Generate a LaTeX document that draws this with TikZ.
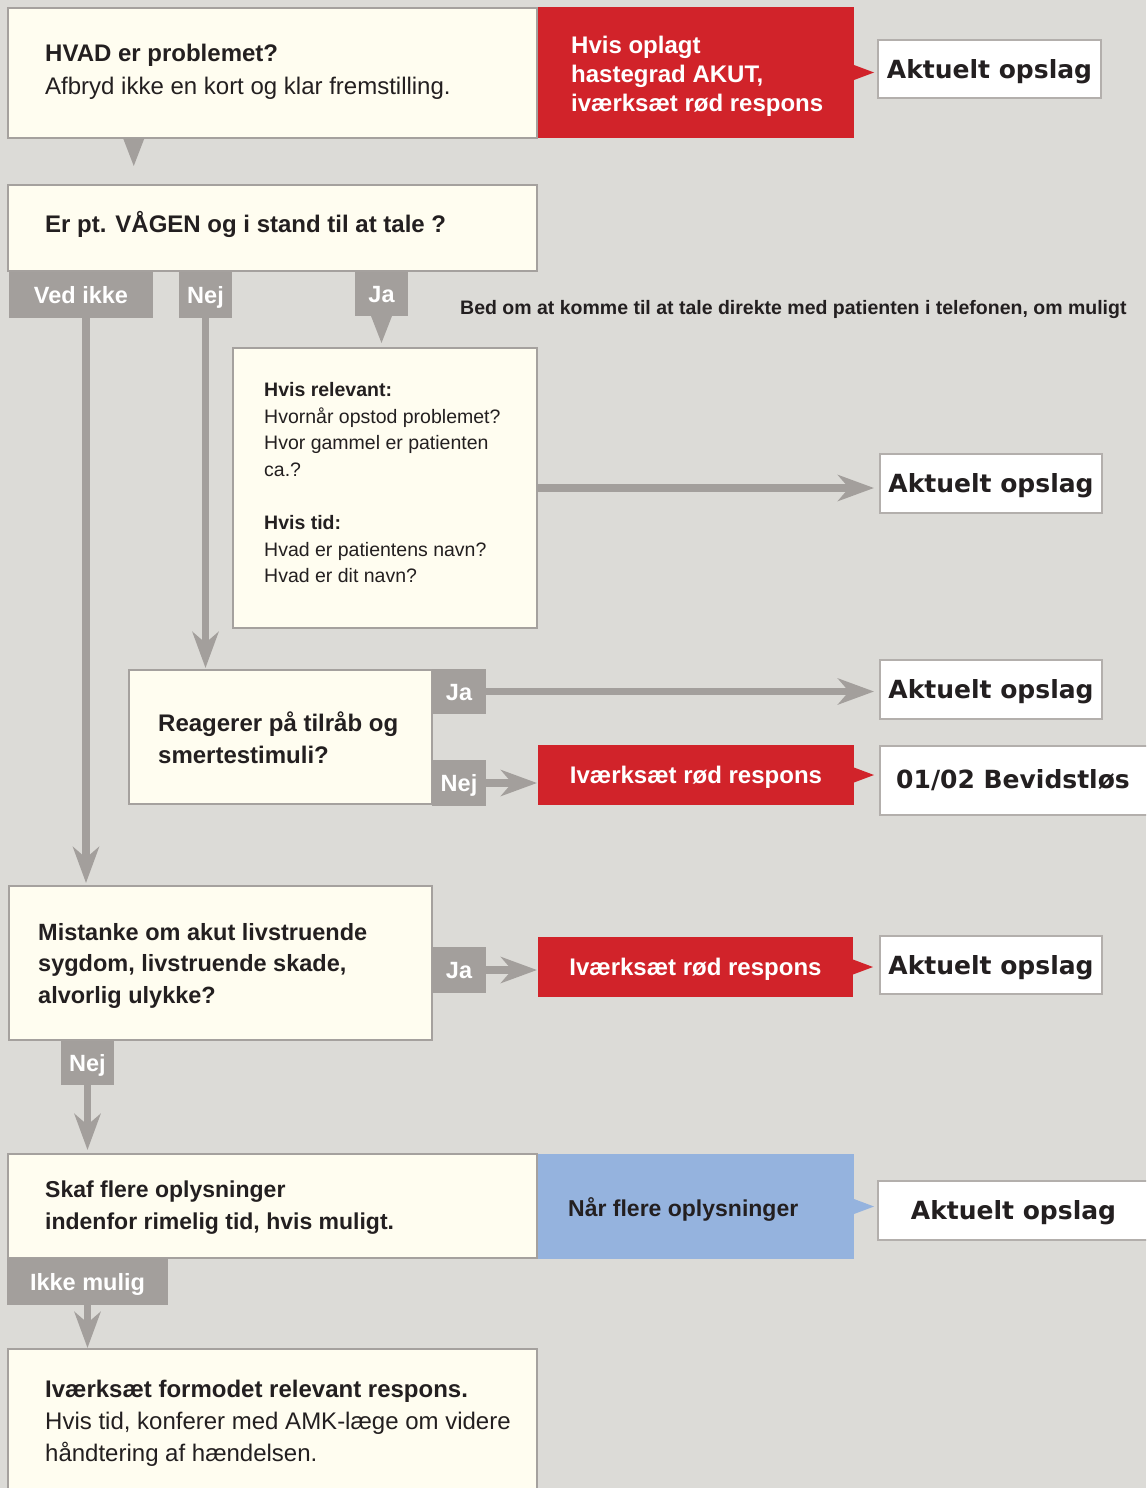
\documentclass[tikz,border=0pt]{standalone}
\usepackage{fontspec}
\setmainfont{Liberation Sans}
\newfontfamily\opslagfont{DejaVu Sans}
\usetikzlibrary{arrows.meta,calc}
\definecolor{bgc}{HTML}{DCDBD7}
\definecolor{cream}{HTML}{FFFDF0}
\definecolor{taggray}{HTML}{A39F9C}
\definecolor{bordergray}{HTML}{A5A19E}
\definecolor{lightborder}{HTML}{B3AFAC}
\definecolor{myred}{HTML}{D1232A}
\definecolor{myblue}{HTML}{95B3DE}
\definecolor{ink}{HTML}{231F20}
\newcommand{\fs}[1]{\fontsize{#1}{#1}\selectfont}
\newcommand{\bx}[7]{\node[#2, minimum width={#5pt-#3pt}, minimum height={#6pt-#4pt}] (#1) at (#3,#4) {#7};}
\newcommand{\txtline}[6][]{\node[tline, #1, font=#5] (#2) at (#3,#4) {#6};}
\newcommand{\pointer}[2]{\fill[#1] ($(#2.east)+(0,-7.5)$) -- ($(#2.east)+(20,0)$) -- ($(#2.east)+(0,7.5)$) -- cycle;}
\begin{document}
\begin{tikzpicture}[x=1pt,y=-1pt,
 base/.style={anchor=north west, inner sep=0pt, outer sep=0pt},
 box/.style={base, draw=bordergray, line width=2.5pt, fill=cream},
 redbox/.style={base, fill=myred, text=white, font=\bfseries\fs{24}, text height=17pt, text depth=0pt},
 bluebox/.style={base, fill=myblue},
 tag/.style={base, fill=taggray, text=white, font=\bfseries\fs{23.5}, text height=17pt, text depth=0pt},
 opslag/.style={base, draw=lightborder, line width=1.5pt, fill=white, text=ink, font=\opslagfont\bfseries\fs{25}, text height=18.5pt, text depth=0pt},
 tline/.style={anchor=base west, inner sep=0pt, text=ink},
 arr/.style={draw=taggray, line width=7.5pt, -{Stealth[length=36pt, width=26pt, inset=11pt]}}
]
\useasboundingbox (0,0) rectangle (1146,1488);
\clip (0,0) rectangle (1146,1488);
\fill[bgc] (0,0) rectangle (1146,1488);

% boxes
\bx{b1}{box}{8}{8}{537}{138}{}
\bx{r1}{redbox}{538}{7}{854}{138}{}
\bx{o1}{opslag}{878}{40}{1101}{98}{Aktuelt opslag}
\bx{b2}{box}{8}{185}{537}{271}{}
\bx{t1}{tag}{9}{272}{153}{318}{Ved ikke}
\bx{t2}{tag}{179}{272}{232}{318}{Nej}
\bx{t3}{tag}{355}{272}{408}{316}{Ja}
\bx{b3}{box}{233}{348}{537}{628}{}
\bx{o2}{opslag}{880}{454}{1102}{513}{Aktuelt opslag}
\bx{b4}{box}{129}{670}{432}{804}{}
\bx{t4}{tag}{432}{669}{486}{714}{Ja}
\bx{o3}{opslag}{880}{660}{1102}{719}{Aktuelt opslag}
\bx{t5}{tag}{432}{760}{486}{806}{Nej}
\bx{r2}{redbox}{538}{745}{854}{805}{Iværksæt rød respons}
\bx{o4}{opslag}{880}{746}{1149}{815}{}
\bx{b5}{box}{9}{886}{432}{1040}{}
\bx{t6}{tag}{432}{947}{486}{993}{Ja}
\bx{r3}{redbox}{538}{937}{853}{997}{Iværksæt rød respons}
\bx{o5}{opslag}{880}{936}{1102}{994}{Aktuelt opslag}
\bx{t7}{tag}{61}{1041}{114}{1085}{Nej}
\bx{b6}{box}{8}{1154}{537}{1258}{}
\bx{bl}{bluebox}{538}{1154}{854}{1259}{}
\bx{o6}{opslag}{878}{1181}{1149}{1240}{Aktuelt opslag}
\bx{t8}{tag}{7}{1258}{168}{1305}{Ikke mulig}
\bx{b7}{box}{8}{1349}{537}{1500}{}

% texts
\txtline{b1a}{45}{62}{\bfseries\fs{24}}{HVAD er problemet?}
\txtline{b1b}{45}{94}{\fs{24}}{Afbryd ikke en kort og klar fremstilling.}
\txtline[text=white]{r1a}{571}{53}{\bfseries\fs{24}}{Hvis oplagt}
\txtline[text=white]{r1b}{571}{82}{\bfseries\fs{24}}{hastegrad AKUT,}
\txtline[text=white]{r1c}{571}{111}{\bfseries\fs{24}}{iværksæt rød respons}
\txtline{b2a}{45}{232}{\bfseries\fs{24}}{Er pt. VÅGEN og i stand til at tale ?}
\txtline{bed}{460}{314}{\bfseries\fs{19.5}}{Bed om at komme til at tale direkte med patienten i telefonen, om muligt}
\txtline{b3a}{264}{396}{\bfseries\fs{19.5}}{Hvis relevant:}
\txtline{b3b}{264}{423}{\fs{19.5}}{Hvornår opstod problemet?}
\txtline{b3c}{264}{449.5}{\fs{19.5}}{Hvor gammel er patienten}
\txtline{b3d}{264}{476}{\fs{19.5}}{ca.?}
\txtline{b3e}{264}{529}{\bfseries\fs{19.5}}{Hvis tid:}
\txtline{b3f}{264}{556}{\fs{19.5}}{Hvad er patientens navn?}
\txtline{b3g}{264}{582.5}{\fs{19.5}}{Hvad er dit navn?}
\txtline{b4a}{158}{731.5}{\bfseries\fs{24}}{Reagerer på tilråb og}
\txtline{b4b}{158}{763.5}{\bfseries\fs{24}}{smertestimuli?}
\txtline{o4a}{896}{788}{\opslagfont\bfseries\fs{25}}{01/02 Bevidstløs}
\txtline{b5a}{38}{940}{\bfseries\fs{23.5}}{Mistanke om akut livstruende}
\txtline{b5b}{38}{971.7}{\bfseries\fs{23.5}}{sygdom, livstruende skade,}
\txtline{b5c}{38}{1003.3}{\bfseries\fs{23.5}}{alvorlig ulykke?}
\txtline{b6a}{45}{1197}{\bfseries\fs{23}}{Skaf flere oplysninger}
\txtline{b6b}{45}{1229}{\bfseries\fs{23}}{indenfor rimelig tid, hvis muligt.}
\txtline{bla}{568}{1216}{\bfseries\fs{23}}{Når flere oplysninger}
\txtline{b7a}{45}{1397}{\bfseries\fs{24}}{Iværksæt formodet relevant respons.}
\txtline{b7b}{45}{1429}{\fs{24}}{Hvis tid, konferer med AMK-læge om videre}
\txtline{b7c}{45}{1461}{\fs{24}}{håndtering af hændelsen.}

% connectors
\fill[taggray] ($(b1.south west)+(115,0)$) -- ++(21.5,0) -- ++(-10.75,28) -- cycle;
\fill[taggray] ($(t3.south)+(-10.5,0)$) -- ++(21,0) -- ++(-10.5,27) -- cycle;
\coordinate (v1) at ($(t1.south)+(5,0)$);
\draw[arr, shorten >=3pt] (v1) -- (v1 |- b5.north);
\draw[arr, shorten >=2pt] (t2.south) -- (t2.south |- b4.north);
\draw[arr, shorten >=6pt] (b3.east) -- (b3.east -| o2.west);
\draw[arr, shorten >=6pt] (t4.east) -- (t4.east -| o3.west);
\draw[arr, shorten >=1pt] (t5.east) -- (t5.east -| r2.west);
\draw[arr, shorten >=1pt] (t6.east) -- (t6.east -| r3.west);
\draw[arr, shorten >=4pt] (t7.south) -- (t7.south |- b6.north);
\draw[arr, shorten >=1pt] (t8.south) -- (t8.south |- b7.north);
\pointer{myred}{r1}
\pointer{myred}{r2}
\pointer{myred}{r3}
\pointer{myblue}{bl}
\end{tikzpicture}
\end{document}
